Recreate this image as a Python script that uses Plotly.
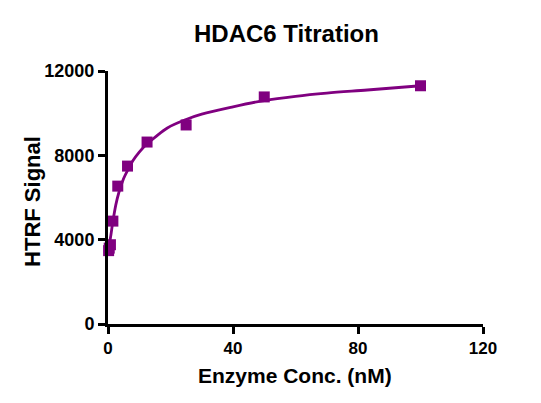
import plotly.graph_objects as go

# measured points (enzyme conc. in nM, HTRF signal)
conc_nm = [100, 50, 25, 12.5, 6.25, 3.125, 1.5625, 0.78, 0.39, 0.195]
htrf_signal = [11300, 10770, 9440, 8630, 7490, 6540, 4880, 3760, 3600, 3480]

# fitted curve
fit_x = [0, 0.2, 0.4, 0.8, 1.5, 2.5, 3.5, 5, 6.5, 8, 10, 12.5, 15, 19, 25,
         30, 40, 50, 60, 70, 83, 100]
fit_y = [3400, 3550, 3750, 4100, 4800, 5650, 6250, 6900, 7350, 7750, 8150,
         8550, 8850, 9300, 9700, 9950, 10300, 10600, 10800, 10950, 11100, 11300]

x_ticks = [0, 40, 80, 120]
y_ticks = [0, 4000, 8000, 12000]
y_tick_text = ["0", "4000", "8000", "12000"]

PURPLE = "#800080"
FONT = "Liberation Sans, Arial, sans-serif"

fig = go.Figure()
fig.add_trace(go.Scatter(
    x=fit_x, y=fit_y, mode="lines",
    line=dict(color=PURPLE, width=2.8, shape="spline"),
    hoverinfo="skip", cliponaxis=False,
))
fig.add_trace(go.Scatter(
    x=conc_nm, y=htrf_signal, mode="markers",
    marker=dict(symbol="square", size=11, color=PURPLE),
    cliponaxis=False,
))

axis_style = dict(
    showgrid=False, zeroline=False, showline=True, automargin=False,
    linecolor="black", linewidth=3,
    ticks="outside", ticklen=7, tickwidth=3, tickcolor="black",
)

# titles as annotations so they sit where the original has them
titles = [
    dict(text="<b>HDAC6 Titration</b>", x=0.477, y=1.150, size=24, angle=0),
    dict(text="<b>Enzyme Conc. (nM)</b>", x=0.499, y=-0.202, size=21, angle=0),
    dict(text="<b>HTRF Signal</b>", x=-0.203, y=0.486, size=22, angle=-90),
]

fig.update_layout(
    width=541, height=403,
    margin=dict(l=100, r=66, t=63, b=87),
    paper_bgcolor="white", plot_bgcolor="white",
    showlegend=False,
    xaxis=dict(range=[0, 120], tickvals=x_ticks,
               tickfont=dict(family=FONT, size=17, color="black", weight="bold"),
               **axis_style),
    yaxis=dict(range=[0, 12000], tickvals=y_ticks, ticktext=y_tick_text,
               tickfont=dict(family=FONT, size=18, color="black", weight="bold"),
               **axis_style),
    annotations=[
        dict(text=t["text"], x=t["x"], y=t["y"], xref="paper", yref="paper",
             xanchor="center", yanchor="middle", showarrow=False,
             textangle=t["angle"],
             font=dict(family=FONT, size=t["size"], color="black"))
        for t in titles
    ],
)

fig.write_html("out.html")
